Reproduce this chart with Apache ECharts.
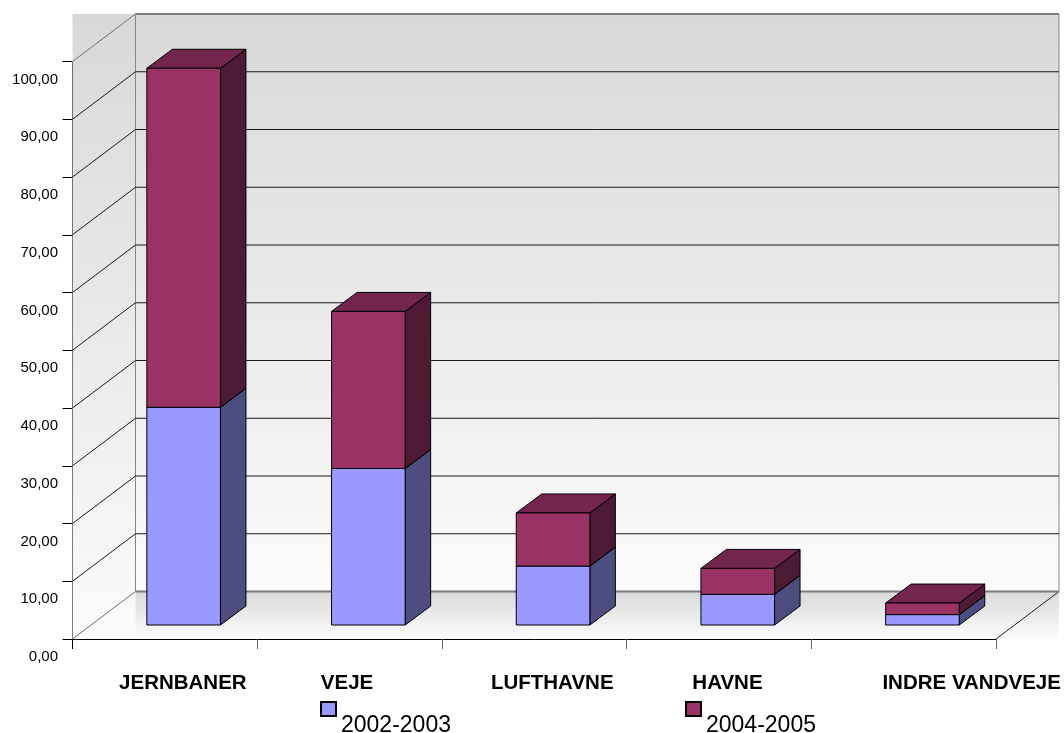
<!DOCTYPE html>
<html>
<head>
<meta charset="utf-8">
<script src="https://cdn.jsdelivr.net/npm/echarts@6/dist/echarts.min.js"></script>
<style>html,body{margin:0;padding:0;background:#fff}#chart{width:1064px;height:733px}</style>
</head>
<body>
<div id="chart"></div>
<script>
const categories = ['JERNBANER', 'VEJE', 'LUFTHAVNE', 'HAVNE', 'INDRE VANDVEJE'];
const labelShift = [18, -2.5, 18, 8.5, 68];
const y2002 = [37.7, 27.1, 10.2, 5.3, 1.8];
const y2004 = [58.7, 27.2, 9.2, 4.5, 2.0];
const yTicks = [0, 10, 20, 30, 40, 50, 60, 70, 80, 90, 100];

// depth of the box and of the bars, in pixels
const WALL_DX = 63, WALL_DY = -47.5;
const BAR_OFF_X = 18.8, BAR_OFF_Y = -14;
const BAR_DX = 25.5, BAR_DY = -19;
const BAR_W = 73.6;

const chart = echarts.init(document.getElementById('chart'));

function poly(points, fill, stroke) {
    return {
        type: 'polygon',
        shape: {points: points},
        style: {fill: fill, stroke: stroke || '#000', lineWidth: 1}
    };
}

function line(x1, y1, x2, y2, color, width) {
    return {
        type: 'line',
        shape: {x1: x1, y1: y1, x2: x2, y2: y2},
        style: {stroke: color, lineWidth: width || 1}
    };
}

function vGrad(colors) {
    return new echarts.graphic.LinearGradient(0, 0, 0, 1, colors);
}

// background: walls and floor
function renderWalls(params, api) {
    const g = params.coordSys;
    const left = g.x, right = g.x + g.width;
    const top = api.coord([0, 100])[1] + WALL_DY;
    const zero = api.coord([0, 0])[1];
    const backZero = zero + WALL_DY;
    const wallFill = vGrad([{offset: 0, color: '#d8d8d8'}, {offset: 1, color: '#fbfbfb'}]);
    return {
        type: 'group',
        children: [
            {type: 'rect', shape: {x: left, y: top, width: WALL_DX, height: zero - top}, style: {fill: wallFill}},
            {type: 'rect', shape: {x: left + WALL_DX, y: top, width: g.width, height: backZero - top}, style: {fill: wallFill}},
            {type: 'rect', shape: {x: left + WALL_DX, y: backZero, width: g.width, height: zero - backZero},
                style: {fill: vGrad([{offset: 0, color: '#d9d9d9'}, {offset: 1, color: '#fcfcfc'}])}},
            line(left + WALL_DX, top, left + WALL_DX, backZero, '#868686', 1),
            line(right + WALL_DX, top, right + WALL_DX, backZero, '#868686', 1),
            line(right, zero, right + WALL_DX, backZero, '#222', 1),
            line(left, zero, left, zero + 10, '#000', 1)
        ]
    };
}

// gridlines run along the back wall and down the left wall
function renderGrid(params, api) {
    const v = api.value(0);
    const g = params.coordSys;
    const y = api.coord([0, v])[1];
    const edge = v === 0 || v === 100;
    const color = edge ? '#6e6e6e' : '#1a1a1a';
    return {
        type: 'group',
        children: [
            line(g.x, y, g.x + WALL_DX, y + WALL_DY, color, 1),
            line(g.x + WALL_DX, y + WALL_DY, g.x + WALL_DX + g.width, y + WALL_DY, edge ? '#7a7a7a' : color, edge ? 2 : 1)
        ]
    };
}

function barRenderer(front, side, topFace) {
    return function (params, api) {
        const idx = api.value(0);
        const c0 = api.coord([idx, api.value(1)]);
        const c1 = api.coord([idx, api.value(2)]);
        const x0 = c0[0] + BAR_OFF_X - BAR_W / 2;
        const x1 = x0 + BAR_W;
        const yb = c0[1] + BAR_OFF_Y;
        const yt = c1[1] + BAR_OFF_Y;
        return {
            type: 'group',
            children: [
                poly([[x1, yb], [x1 + BAR_DX, yb + BAR_DY], [x1 + BAR_DX, yt + BAR_DY], [x1, yt]], side),
                poly([[x0, yt], [x0 + BAR_DX, yt + BAR_DY], [x1 + BAR_DX, yt + BAR_DY], [x1, yt]], topFace),
                poly([[x0, yb], [x1, yb], [x1, yt], [x0, yt]], front)
            ]
        };
    };
}

const lowData = categories.map((c, i) => [i, 0, y2002[i]]);
const highData = categories.map((c, i) => [i, y2002[i], y2002[i] + y2004[i]]);

chart.setOption({
    animation: false,
    textStyle: {fontFamily: '"Liberation Sans", Arial, sans-serif'},
    grid: {left: 72.5, top: 61.5, width: 923.5, height: 577.5},
    legend: {
        left: 320,
        top: 701,
        padding: 0,
        itemWidth: 15,
        itemHeight: 14,
        itemGap: 234,
        icon: 'rect',
        data: ['2002-2003', '2004-2005'],
        selectedMode: false,
        formatter: '{t|{name}}',
        textStyle: {
            rich: {t: {fontSize: 23, color: '#000', padding: [33, 0, 0, 0]}}
        }
    },
    xAxis: {
        type: 'category',
        data: categories.map((c, i) => ({
            value: c,
            textStyle: {
                padding: labelShift[i] > 0 ? [0, 0, 0, labelShift[i] * 2] : [0, -labelShift[i] * 2, 0, 0]
            }
        })),
        axisLine: {lineStyle: {color: '#000'}, onZero: false},
        axisTick: {show: true, length: 10, lineStyle: {color: '#666'}, alignWithLabel: false},
        axisLabel: {interval: 0, margin: 34, fontSize: 20.5, fontWeight: 'bold', color: '#000', hideOverlap: false},
        splitLine: {show: false}
    },
    yAxis: {
        type: 'value',
        min: 0,
        max: 100,
        interval: 10,
        axisLine: {show: true, lineStyle: {color: '#000'}},
        axisTick: {show: true, length: 10, lineStyle: {color: '#000'}},
        axisLabel: {
            margin: 14.5,
            fontSize: 15,
            color: '#000',
            verticalAlign: 'top',
            lineHeight: 36,
            formatter: v => v.toFixed(2).replace('.', ',')
        },
        splitLine: {show: false}
    },
    series: [
        {type: 'custom', silent: true, clip: false, z: 1, renderItem: renderWalls, data: [[0]]},
        {type: 'custom', silent: true, clip: false, z: 2, renderItem: renderGrid, data: yTicks.map(v => [v])},
        {
            name: '2002-2003', type: 'custom', clip: false, z: 3,
            itemStyle: {color: '#9999ff', borderColor: '#000', borderWidth: 1},
            renderItem: barRenderer('#9999ff', '#4d4d80', '#73739f'),
            encode: {x: 0, y: 2},
            data: lowData
        },
        {
            name: '2004-2005', type: 'custom', clip: false, z: 4,
            itemStyle: {color: '#993366', borderColor: '#000', borderWidth: 1},
            renderItem: barRenderer('#993366', '#4d1a33', '#73264d'),
            encode: {x: 0, y: 2},
            data: highData
        }
    ]
});
</script>
</body>
</html>
